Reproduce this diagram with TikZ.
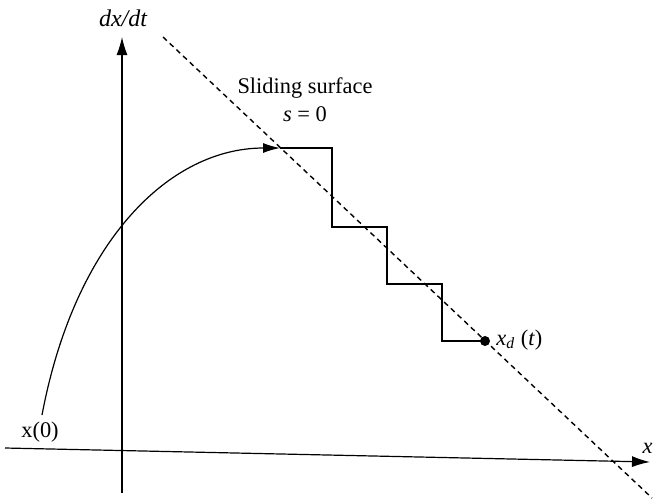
\documentclass[tikz,border=0pt]{standalone}
\usepackage{fontspec}
\setmainfont{Liberation Serif}
\usetikzlibrary{arrows.meta}
\begin{document}
\begin{tikzpicture}[x=0.5pt,y=-0.5pt,
  axis/.style={line width=0.6pt,-{Latex[length=9pt,width=5.5pt]}},
  traj/.style={line width=0.6pt},
  surf/.style={line width=0.7pt,dash pattern=on 2.6pt off 2pt},
  lbl/.style={font=\fontsize{11.2}{13}\selectfont,inner sep=1pt}]
\useasboundingbox (0,0) rectangle (654,500);
% axes
\coordinate (yb) at (122,493);
\coordinate (yt) at (122,37);
\coordinate (xl) at (5,448);
\coordinate (xr) at (650,462);
\draw[axis] (yb) -- (yt);
\draw[axis] (xl) -- (xr);
% sliding surface
\coordinate (sa) at (163,37);
\coordinate (sb) at (652,498);
\draw[surf] (sa) -- (sb);
% reaching trajectory
\coordinate (x0pt) at (42,415);
\coordinate (p0) at (280,148);
\draw[traj,-{Latex[length=8.5pt,width=5pt]}] (x0pt) .. controls (75,240) and (170,148) .. (p0);
% chattering staircase
\coordinate (p1) at (332,148);
\coordinate (p2) at (332,227);
\coordinate (p3) at (387,227);
\coordinate (p4) at (387,284);
\coordinate (p5) at (442,284);
\coordinate (p6) at (442,341);
\node[circle,fill,inner sep=0pt,minimum size=5pt] (xd) at (485,341) {};
\draw[traj] (p0) -- (p1) -- (p2) -- (p3) -- (p4) -- (p5) -- (p6) -- (xd.center);
% labels
\node[lbl,font=\fontsize{12}{14}\selectfont\itshape] (ylab) at (123,18) {dx/dt};
\node[lbl] (sl) at (305,88) {Sliding surface};
\node[lbl] (s0) at (305,114) {\textit{s} = 0};
\node[lbl] (x0) at (40,432) {x(0)};
\node[lbl,anchor=west] (xdlab) at (494,340) {\textit{x}\textsubscript{\textit{d}} (\textit{t})};
\node[lbl,anchor=east,inner sep=0.5pt] (xlab) at (654,448) {\textit{x}};
\end{tikzpicture}
\end{document}
